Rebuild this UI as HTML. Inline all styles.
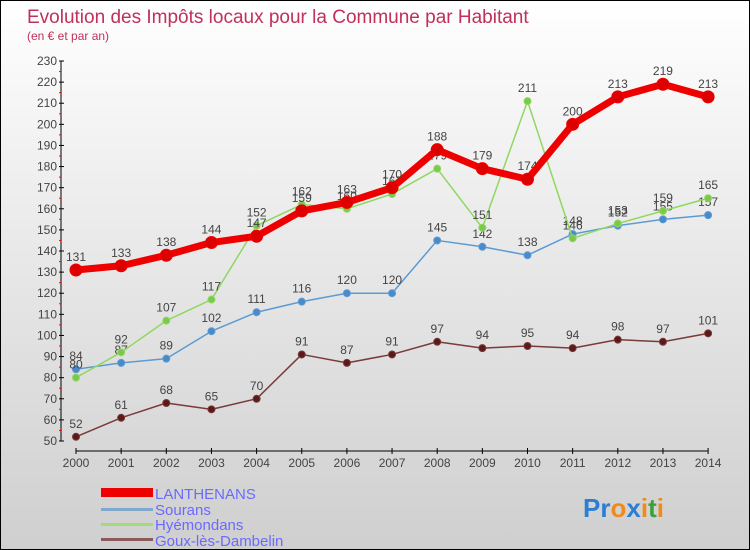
<!DOCTYPE html>
<html><head><meta charset="utf-8"><style>
body{margin:0;}
#c{width:750px;height:550px;position:relative;border:1px solid #000;box-sizing:border-box;background:linear-gradient(#fff,#f0f0f0 30%,#cfcfcf);font-family:"Liberation Sans",sans-serif;overflow:hidden}
</style></head><body>
<div id="c">
<svg id="s" width="750" height="550" style="position:absolute;left:0;top:0">
<text x="26" y="22" font-size="19" fill="#c0305a">Evolution des Impôts locaux pour la Commune par Habitant</text>
<text x="26" y="39" font-size="12" fill="#c0305a">(en € et par an)</text>
<g id="g"></g>
<g>
<rect x="100" y="487" width="52" height="9" fill="#e00"/>
<text x="154" y="498" font-size="15" fill="#6a6aff">LANTHENANS</text>
<rect x="100" y="507" width="52" height="3" fill="#7fa8cc"/>
<text x="154" y="514" font-size="15" fill="#6a6aff">Sourans</text>
<rect x="100" y="522" width="52" height="3" fill="#9fdc7a"/>
<text x="154" y="529" font-size="15" fill="#6a6aff">Hyémondans</text>
<rect x="100" y="537" width="52" height="3" fill="#8b5a5a"/>
<text x="154" y="545" font-size="15" fill="#6a6aff">Goux-lès-Dambelin</text>
</g>
<text x="582" y="516" font-size="26" font-weight="bold"><tspan fill="#2a7fd4">Pr</tspan><tspan fill="#f08a1a">o</tspan><tspan fill="#2a7fd4">x</tspan><tspan fill="#f08a1a">i</tspan><tspan fill="#3aa03a">t</tspan><tspan fill="#f08a1a">i</tspan></text>
</svg>
</div>
<script>
const years=[2000,2001,2002,2003,2004,2005,2006,2007,2008,2009,2010,2011,2012,2013,2014];
const yTicks=[50,60,70,80,90,100,110,120,130,140,150,160,170,180,190,200,210,220,230];
const lanthenans=[131,133,138,144,147,159,163,170,188,179,174,200,213,219,213];
const sourans=[84,87,89,102,111,116,120,120,145,142,138,148,152,155,157];
const hyemondans=[80,92,107,117,152,162,160,167,179,151,211,146,153,159,165];
const goux=[52,61,68,65,70,91,87,91,97,94,95,94,98,97,101];
const NS="http://www.w3.org/2000/svg";
const g=document.getElementById('g');
const X=i=>75+i*45.15;
const Y=v=>440-(v-50)*380/180;
function mk(t,a,p){const e=document.createElementNS(NS,t);for(const k in a)e.setAttribute(k,a[k]);(p||g).appendChild(e);return e;}
let ax=mk('line',{x1:60,y1:60,x2:60,y2:440,stroke:'#000','stroke-width':1});


let bx=mk('line',{x1:75,y1:450,x2:707,y2:450,stroke:'#000','stroke-width':1});


yTicks.forEach(v=>{
 mk('line',{x1:58,y1:Y(v),x2:63,y2:Y(v),stroke:'#000'});
 if(v<230)mk('line',{x1:58,y1:Y(v+5),x2:60,y2:Y(v+5),stroke:'#f00'});
 const t=mk('text',{x:56,y:Y(v)+4,'font-size':12,fill:'#444','text-anchor':'end'});t.textContent=v;
 
 
});
years.forEach((yr,i)=>{
 mk('line',{x1:X(i),y1:447,x2:X(i),y2:453,stroke:'#000'});
 const t=mk('text',{x:X(i),y:466,'font-size':12,fill:'#444','text-anchor':'middle'});t.textContent=yr;
 
 
});
function series(d,col,dot,w,r,name){
 const p=mk('polyline',{points:d.map((v,i)=>X(i)+','+Y(v)).join(' '),fill:'none',stroke:col,'stroke-width':w,'stroke-linejoin':'round'});
 
 
 d.forEach((v,i)=>{
  const c=mk('circle',{cx:X(i),cy:Y(v),r:r,fill:dot,stroke:col,'stroke-width':1});
  
  
  const t=mk('text',{x:X(i),y:Y(v)-9,'font-size':12,fill:'#444','text-anchor':'middle'});t.textContent=v;
  
  
 });
}
series(goux,'#7a3a3a','#5a1a1a',1.5,3.5,'goux');
series(sourans,'#5b9bd5','#4a8ac8',1.5,3.5,'sourans');
series(hyemondans,'#8fd860','#7cc84a',1.5,3.5,'hyemondans');
series(lanthenans,'#ee0000','#dd0000',7,6,'lanthenans');
</script>
</body></html>
